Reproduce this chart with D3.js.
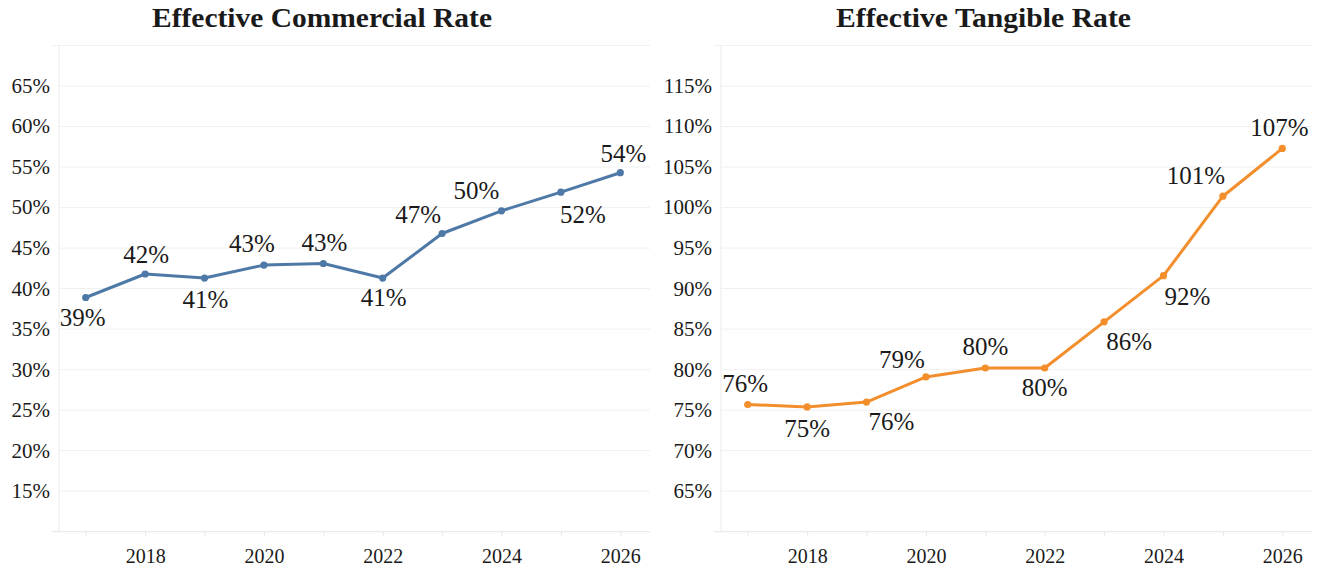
<!DOCTYPE html>
<html>
<head>
<meta charset="utf-8">
<script src="https://cdn.jsdelivr.net/npm/d3@7"></script>
<style>
  html, body { margin: 0; padding: 0; background: #ffffff; }
  svg { display: block; }
  text { font-family: "Liberation Serif", "DejaVu Serif", serif; fill: #1a1a1a; }
</style>
</head>
<body>
<svg id="chart" width="1320" height="568"></svg>
<script>
// ---- data ----
const years = [2017, 2018, 2019, 2020, 2021, 2022, 2023, 2024, 2025, 2026];
const commercialRate = [38.9, 41.8, 41.3, 42.9, 43.1, 41.3, 46.8, 49.6, 51.9, 54.3];
const tangibleRate = [75.7, 75.4, 76.0, 79.1, 80.2, 80.2, 85.9, 91.6, 101.4, 107.3];
const commercialTicks = [15, 20, 25, 30, 35, 40, 45, 50, 55, 60, 65];
const tangibleTicks = [65, 70, 75, 80, 85, 90, 95, 100, 105, 110, 115];
const xTickLabels = [2018, 2020, 2022, 2024, 2026];
const titles = ["Effective Commercial Rate", "Effective Tangible Rate"];

// ---- label placement (style) ----
const commercialLabelOffsets = [[-3,20],[1,-19],[1,22],[-12,-21],[1,-21],[1,19.5],[-24,-19],[-25,-19.6],[22,22.7],[3,-18.7]];
const tangibleLabelOffsets = [[-2.5,-21],[0,21.5],[25,20],[-24,-17.3],[0,-21.6],[0,19.6],[25,20],[24,21.6],[-27,-20.3],[-3,-20.4]];

const panels = [
  { title: titles[0], values: commercialRate, ticks: commercialTicks, yDomain: [10, 70],
    color: "#4e79a7", offsets: commercialLabelOffsets, ox: 0, titleX: 322, titleW: 340 },
  { title: titles[1], values: tangibleRate, ticks: tangibleTicks, yDomain: [60, 120],
    color: "#f28e2b", offsets: tangibleLabelOffsets, ox: 662, titleX: 983.5, titleW: 295 }
];

const svg = d3.select("#chart");
const plotTop = 45.5, plotBottom = 531.7, plotLeft = 59, plotRight = 650;

panels.forEach(p => {
  const g = svg.append("g").attr("transform", `translate(${p.ox},0)`);
  const x = d3.scaleLinear().domain([2016.55, 2026.5]).range([plotLeft, plotRight]);
  const y = d3.scaleLinear().domain(p.yDomain).range([plotBottom, plotTop]);

  // title
  svg.append("text")
    .attr("x", p.titleX).attr("y", 27)
    .attr("text-anchor", "middle")
    .attr("textLength", p.titleW)
    .attr("lengthAdjust", "spacingAndGlyphs")
    .style("font-size", "27px").style("font-weight", "bold")
    .text(p.title);

  // gridlines
  g.selectAll(".grid").data(p.ticks).enter().append("line")
    .attr("x1", plotLeft).attr("x2", plotRight)
    .attr("y1", d => y(d)).attr("y2", d => y(d))
    .attr("stroke", "#f0f0f0").attr("stroke-width", 1);
  // top frame line
  g.append("line").attr("x1", plotLeft - 7).attr("x2", plotRight)
    .attr("y1", y(p.yDomain[1])).attr("y2", y(p.yDomain[1]))
    .attr("stroke", "#f0f0f0").attr("stroke-width", 1);
  // y axis line
  g.append("line").attr("x1", plotLeft).attr("x2", plotLeft)
    .attr("y1", plotTop).attr("y2", plotBottom)
    .attr("stroke", "#ebebeb").attr("stroke-width", 1);
  // bottom axis line
  g.append("line").attr("x1", plotLeft - 7).attr("x2", plotRight)
    .attr("y1", plotBottom).attr("y2", plotBottom)
    .attr("stroke", "#e6e6e6").attr("stroke-width", 1);

  // y tick labels
  g.selectAll(".ylab").data(p.ticks).enter().append("text")
    .attr("x", plotLeft - 9).attr("y", d => y(d) + 0.33 * 21)
    .attr("text-anchor", "end")
    .style("font-size", "21px")
    .text(d => d + "%");

  // x axis
  const xAxis = d3.axisBottom(x)
    .tickValues(years)
    .tickSize(4)
    .tickPadding(13)
    .tickFormat(d => xTickLabels.includes(d) ? String(d) : "");
  const ax = g.append("g").attr("transform", `translate(0,${plotBottom})`).call(xAxis);
  ax.select(".domain").remove();
  ax.selectAll(".tick line").attr("stroke", "#e6e6e6");
  ax.selectAll(".tick text")
    .style("font-size", "20px")
    .style("font-family", "'Liberation Serif', serif")
    .attr("fill", "#1a1a1a");

  // line
  const line = d3.line().x((d, i) => x(years[i])).y(d => y(d));
  g.append("path").datum(p.values)
    .attr("d", line)
    .attr("fill", "none")
    .attr("stroke", p.color)
    .attr("stroke-width", 3)
    .attr("stroke-linejoin", "round");

  g.selectAll(".pt").data(p.values).enter().append("circle")
    .attr("cx", (d, i) => x(years[i])).attr("cy", d => y(d))
    .attr("r", 3.6).attr("fill", p.color);

  // data labels
  g.selectAll(".dl").data(p.values).enter().append("text")
    .attr("x", (d, i) => x(years[i]) + p.offsets[i][0])
    .attr("y", (d, i) => y(d) + p.offsets[i][1] + 0.33 * 25)
    .attr("text-anchor", "middle")
    .style("font-size", "25px")
    .text(d => Math.round(d) + "%");
});
</script>
</body>
</html>
